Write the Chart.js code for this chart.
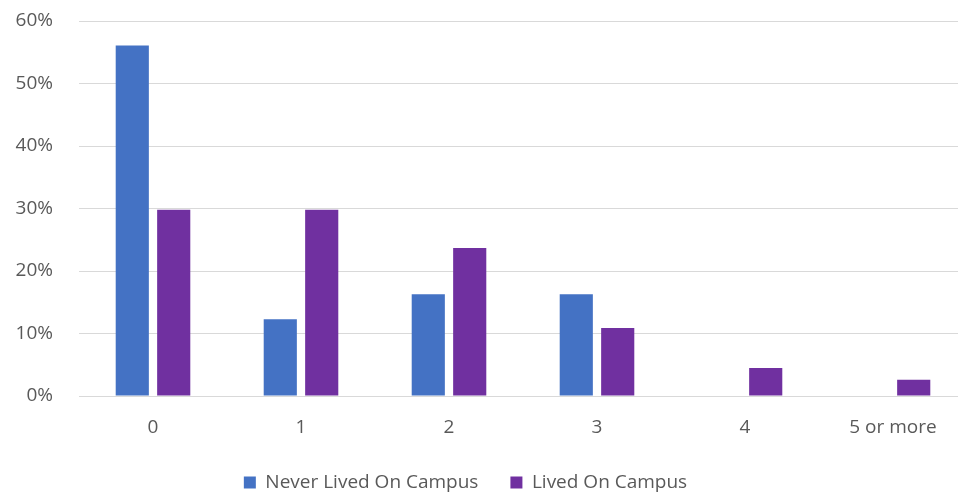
<!DOCTYPE html>
<html><head><meta charset="utf-8">
<script src="https://cdn.jsdelivr.net/npm/chart.js@4/dist/chart.umd.min.js"></script>
<style>
html,body{margin:0;padding:0;background:#fff;overflow:hidden;}
#wrap{width:958px;height:494px;overflow:hidden;position:relative;background:#fff;}
</style></head><body>
<div id="wrap"><canvas id="c" width="967" height="502"></canvas></div>
<script>
const categories = ['0', '1', '2', '3', '4', '5 or more'];
const neverLivedOnCampus = [56.1, 12.3, 16.3, 16.3, 0, 0];
const livedOnCampus = [29.8, 29.8, 23.7, 10.9, 4.5, 2.6];
const seriesNames = ['Never Lived On Campus', 'Lived On Campus'];
const yMin = 0, yMax = 60, yStep = 10;

const FONT = "'Open Sans', sans-serif";
const TXT = '#595959';
const legendDx = -18;

const legendShift = {
  id: 'legendShift',
  afterLayout(chart) {
    const l = chart.legend;
    if (l) { l.left += legendDx; l.right += legendDx; }
  }
};

new Chart(document.getElementById('c'), {
  type: 'bar',
  data: {
    labels: categories,
    datasets: [
      { label: seriesNames[0], data: neverLivedOnCampus, backgroundColor: '#4472C4', borderWidth: 0 },
      { label: seriesNames[1], data: livedOnCampus, backgroundColor: '#7030A0', borderWidth: 0 }
    ]
  },
  options: {
    responsive: false,
    animation: false,
    devicePixelRatio: 1,
    layout: { padding: { left: 0, right: 0, top: 21, bottom: 0 } },
    datasets: { bar: { categoryPercentage: 0.56, barPercentage: 0.8 } },
    scales: {
      x: {
        grid: { display: false },
        border: { display: false },
        ticks: { color: TXT, font: { family: FONT, size: 19 }, padding: 12 },
        afterFit(scale) { scale.height = 45; }
      },
      y: {
        min: yMin, max: yMax,
        grid: { color: '#d9d9d9', lineWidth: 1, drawTicks: false },
        border: { display: false },
        ticks: {
          stepSize: yStep, color: TXT, padding: 26,
          font: { family: FONT, size: 19 },
          callback: v => v + '%'
        },
        afterFit(scale) { scale.width = 79; scale.paddingTop = 0; scale.paddingBottom = 0; }
      }
    },
    plugins: {
      legend: {
        position: 'bottom',
        labels: { color: TXT, font: { family: FONT, size: 19 }, boxWidth: 12, boxHeight: 12, padding: 32 }
      },
      tooltip: { enabled: false }
    }
  },
  plugins: [legendShift]
});
</script>
</body></html>
